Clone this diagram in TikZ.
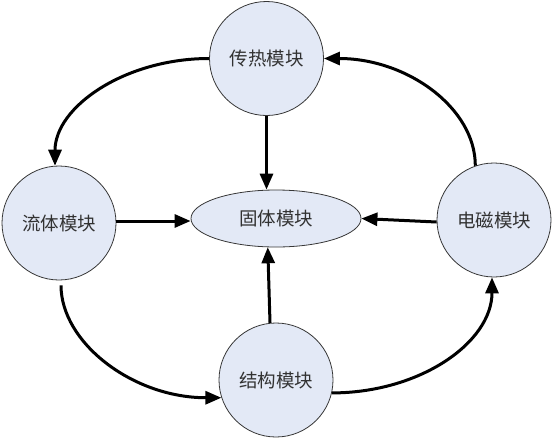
\documentclass[tikz,border=0pt]{standalone}
\usepackage{fontspec}
\newfontfamily\cjk{Noto Sans CJK SC}
\usetikzlibrary{arrows.meta,shapes.geometric}
\definecolor{nodefill}{RGB}{227,233,246}
\definecolor{nodeline}{RGB}{55,55,55}
\definecolor{txt}{RGB}{50,50,50}
\tikzset{
  modcircle/.style={circle,draw=nodeline,fill=nodefill,line width=0.8pt,minimum size=114pt,inner sep=0pt,text=txt,font=\cjk\fontsize{18.5}{20}\selectfont},
  modellipse/.style={ellipse,draw=nodeline,fill=nodefill,line width=0.8pt,minimum width=170pt,minimum height=57pt,inner sep=0pt,text=txt,font=\cjk\fontsize{18.5}{20}\selectfont},
  conn/.style={line width=3pt,black,-{Triangle[length=16pt,width=13pt]}}
}
\begin{document}
\begin{tikzpicture}[x=1pt,y=-1pt]
\useasboundingbox (0,0) rectangle (553,439);
\node[modcircle] (top) at (266.5,58.5) {传热模块};
\node[modcircle] (left) at (59,223) {流体模块};
\node[modcircle] (right) at (494,220) {电磁模块};
\node[modcircle] (bot) at (276,380) {结构模块};
\node[modellipse] (ell) at (276,218.5) {固体模块};
% straight connectors
\draw[conn] (top.south) -- (top.south |- ell.north);
\draw[conn] (left.2) -- (left.2 -| ell.west);
\draw[conn] (right.182) -- (ell.east);
\draw[conn] (bot.96) -- (ell.254);
% curved connectors
\draw[conn] (top.180) .. controls +(-84,0) and +(0,-59) .. (left.94);
\draw[conn] (right.109) .. controls +(0,-58) and +(83,0) .. (top.0);
\draw[conn,shorten <=5pt] (left.272) .. controls +(0,62) and +(-89,0) .. (bot.198);
\draw[conn] (bot.-13) .. controls +(88,0) and +(0,65) .. (right.-92);
\end{tikzpicture}
\end{document}
